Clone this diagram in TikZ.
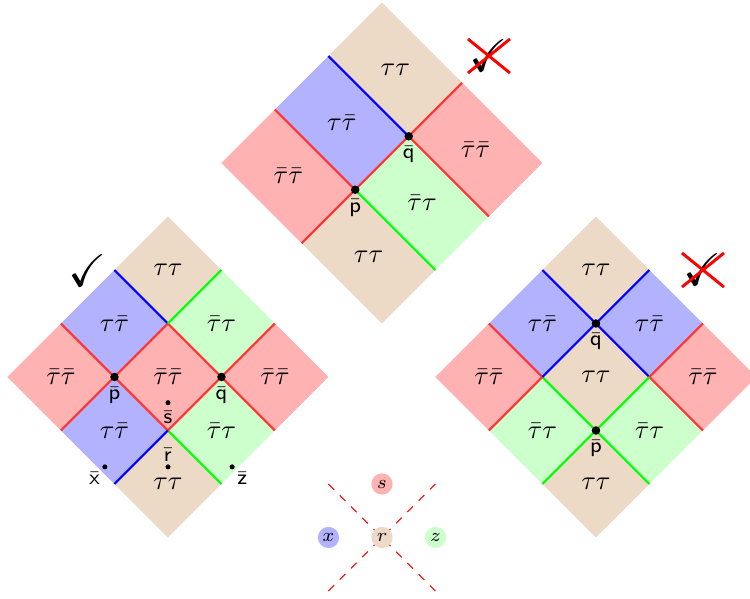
\documentclass[tikz,border=0pt]{standalone}
\usepackage{amssymb}
\usetikzlibrary{positioning}
\newcommand{\sTT}{$\tau\tau$}
\newcommand{\sTB}{$\tau\bar\tau$}
\newcommand{\sBT}{$\bar\tau\tau$}
\newcommand{\sBB}{$\bar\tau\bar\tau$}
\begin{document}
\begin{tikzpicture}[
  tcell/.style={fill=brown!30},
  rcell/.style={fill=red!30},
  bcell/.style={fill=blue!30},
  gcell/.style={fill=green!20},
  wall/.style={line width=0.8pt},
  bigdot/.style={circle, fill=black, inner sep=0pt, minimum size=3.2pt},
  smalldot/.style={circle, fill=black, inner sep=0pt, minimum size=1.9pt},
  ptlabel/.style={font=\footnotesize\sffamily, inner sep=1pt},
  legend/.style={circle, inner sep=0pt, minimum size=8pt, font=\scriptsize},
  nope/.style={red, line width=1.1pt}
]
\clip (0,0) rectangle (9.913,7.917);
\begin{scope}[shift={(0.099,2.934)}, rotate=-45]
% left grid
\foreach \b/\a/\c/\lab in {0/0/rcell/\sBB, 0/1/bcell/\sTB, 0/2/tcell/\sTT,
                           1/0/bcell/\sTB, 1/1/rcell/\sBB, 1/2/gcell/\sBT,
                           2/0/tcell/\sTT, 2/1/gcell/\sBT, 2/2/rcell/\sBB}
  {\fill[\c] (\b,\a) rectangle ++(1,1);
   \node at (\b+0.5,\a+0.5) {\lab};}
\foreach \x/\y/\u/\v/\c in {0/1/1/1/red!80, 1/1/2/1/red!80, 2/1/3/1/green,
                            0/2/1/2/blue, 1/2/2/2/red!80, 2/2/3/2/red!80,
                            1/0/1/1/red!80, 1/1/1/2/red!80, 1/2/1/3/green,
                            2/0/2/1/blue, 2/1/2/2/red!80, 2/2/2/3/red!80}
  \draw[wall, \c] (\x,\y) -- (\u,\v);
\coordinate (lp) at (1,1);
\coordinate (lq) at (2,2);
\coordinate (ls) at (1.74,1.26);
\coordinate (lr) at (2.34,0.66);
\coordinate (lx) at (1.75,0.07);
\coordinate (lz) at (2.94,1.26);
\coordinate (lcheck) at (-0.24,1.74);
% top grid
\begin{scope}[shift={(0,4)}]
\fill[rcell] (0,0) rectangle (1.5,1);
\fill[tcell] (1.5,0) rectangle (3,1);
\fill[bcell] (0,1) rectangle (1.5,2);
\fill[gcell] (1.5,1) rectangle (3,2);
\fill[tcell] (0,2) rectangle (1.5,3);
\fill[rcell] (1.5,2) rectangle (3,3);
\node at (0.75,0.5) {\sBB};
\node at (2.25,0.5) {\sTT};
\node at (0.75,1.5) {\sTB};
\node at (2.25,1.5) {\sBT};
\node at (0.75,2.5) {\sTT};
\node at (2.25,2.5) {\sBB};
\draw[wall, red!80] (0,1) -- (1.5,1);
\draw[wall, green] (1.5,1) -- (3,1);
\draw[wall, blue] (0,2) -- (1.5,2);
\draw[wall, red!80] (1.5,2) -- (3,2);
\draw[wall, red!80] (1.5,0) -- (1.5,3);
\coordinate (tp) at (1.5,1);
\coordinate (tq) at (1.5,2);
\coordinate (tcheck) at (1.5,3.5);
\end{scope}
% right grid
\begin{scope}[shift={(4,4)}]
\foreach \b/\a/\c/\lab in {0/0/rcell/\sBB, 0/1/bcell/\sTB, 0/2/tcell/\sTT,
                           1/0/gcell/\sBT, 1/1/tcell/\sTT, 1/2/bcell/\sTB,
                           2/0/tcell/\sTT, 2/1/gcell/\sBT, 2/2/rcell/\sBB}
  {\fill[\c] (\b,\a) rectangle ++(1,1);
   \node at (\b+0.5,\a+0.5) {\lab};}
\foreach \x/\y/\u/\v/\c in {0/1/1/1/red!80, 1/1/2/1/green, 2/1/3/1/green,
                            0/2/1/2/blue, 1/2/2/2/blue, 2/2/3/2/red!80,
                            1/0/1/1/red!80, 1/1/1/2/blue, 1/2/1/3/blue,
                            2/0/2/1/green, 2/1/2/2/green, 2/2/2/3/red!80}
  \draw[wall, \c] (\x,\y) -- (\u,\v);
\coordinate (rp) at (2,1);
\coordinate (rq) at (1,2);
\coordinate (rcheck) at (1.5,3.5);
\end{scope}
% legend
\coordinate (d1) at (4,2);
\coordinate (d2) at (6,2);
\coordinate (d3) at (5,1);
\coordinate (d4) at (5,3);
\draw[red, dashed, thin] (d1) -- (d2);
\draw[red, dashed, thin] (d3) -- (d4);
\node[legend, fill=red!30] (s) at (4.5,2.5) {$s$};
\node[legend, fill=blue!30] (x) at (4.5,1.5) {$x$};
\node[legend, fill=brown!30] (r) at (5,2) {$r$};
\node[legend, fill=green!20] (z) at (5.5,2.5) {$z$};
\end{scope}
% points
\foreach \n in {lp, lq, tp, tq, rp, rq}
  \node[bigdot] at (\n) {};
\foreach \n in {ls, lr, lx, lz}
  \node[smalldot] at (\n) {};
\node[ptlabel, below=2.5pt of lp] {$\bar{\mathsf{p}}$};
\node[ptlabel, below=2.5pt of lq] {$\bar{\mathsf{q}}$};
\node[ptlabel, below=2.5pt of tp] {$\bar{\mathsf{p}}$};
\node[ptlabel, below=2.5pt of tq] {$\bar{\mathsf{q}}$};
\node[ptlabel, below=2.5pt of rp] {$\bar{\mathsf{p}}$};
\node[ptlabel, below=2.5pt of rq] {$\bar{\mathsf{q}}$};
\node[ptlabel, below=2pt of ls] {$\bar{\mathsf{s}}$};
\node[ptlabel, above=1pt of lr] {$\bar{\mathsf{r}}$};
\node[ptlabel, below left=1pt of lx] {$\bar{\mathsf{x}}$};
\node[ptlabel, below right=1pt of lz] {$\bar{\mathsf{z}}$};
% checks
\node[font=\LARGE] (ok) at (lcheck) {$\checkmark$};
\node[font=\LARGE] (tok) at (tcheck) {$\checkmark$};
\node[font=\LARGE] (rok) at (rcheck) {$\checkmark$};
\draw[nope] ([shift={(-7.9pt,6.4pt)}]tok.center) -- ([shift={(7.9pt,-6.4pt)}]tok.center);
\draw[nope] ([shift={(-7.9pt,-6.4pt)}]tok.center) -- ([shift={(7.9pt,6.4pt)}]tok.center);
\draw[nope] ([shift={(-7.9pt,6.4pt)}]rok.center) -- ([shift={(7.9pt,-6.4pt)}]rok.center);
\draw[nope] ([shift={(-7.9pt,-6.4pt)}]rok.center) -- ([shift={(7.9pt,6.4pt)}]rok.center);
\end{tikzpicture}
\end{document}
